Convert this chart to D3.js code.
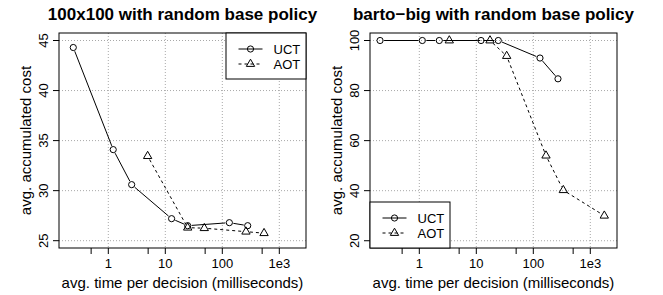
<!DOCTYPE html>
<html>
<head>
<meta charset="utf-8">
<script src="https://cdn.jsdelivr.net/npm/d3@7"></script>
<style>
  html, body { margin: 0; padding: 0; background: #fff; }
  svg { display: block; font-family: "Liberation Sans", Arial, Helvetica, sans-serif; }
</style>
</head>
<body>
<div id="chart"></div>
<script>
'use strict';

// canvas
const W = 663, H = 295;

// x axis (log) ticks, shared by both panels
const xTicks = [0.5, 1, 5, 10, 50, 100, 500, 1000];
const xLabelled = [1, 10, 100, 1000];
const xTickLabels = ['1', '10', '100', '1e3'];

// panel 1: 100x100
const titleA = '100x100 with random base policy';
const uctTimeA = [0.243, 1.22, 2.57, 12.9, 24.7, 133, 279];
const uctCostA = [44.3, 34.1, 30.6, 27.2, 26.5, 26.8, 26.5];
const aotTimeA = [4.9, 24.7, 48.3, 260, 540];
const aotCostA = [33.45, 26.3, 26.25, 25.9, 25.75];
const yTicksA = [25, 30, 35, 40, 45];

// panel 2: barto-big
const titleB = 'barto\u2212big with random base policy';
const uctTimeB = [0.205, 1.13, 2.24, 12.1, 24.3, 131, 271];
const uctCostB = [100, 100, 100, 100, 100, 93, 84.7];
const aotTimeB = [3.36, 17.4, 34.1, 167, 336, 1760];
const aotCostB = [100, 100, 93.8, 54, 40.2, 30];
const yTicksB = [20, 40, 60, 80, 100];

const seriesNames = ['UCT', 'AOT'];

const svg = d3.select('#chart').append('svg')
    .attr('width', W)
    .attr('height', H);

const triangle = d3.symbol().type(d3.symbolTriangle).size(30);

// draw a line with small gaps round each point (R type="b")
const gapLine = function(g, pts, dash) {
    const gap = 4;
    for (let i = 0; i < pts.length - 1; i++) {
        const [x1, y1] = pts[i], [x2, y2] = pts[i + 1];
        const len = Math.hypot(x2 - x1, y2 - y1);
        if (len <= 2 * gap) continue;
        const ux = (x2 - x1) / len, uy = (y2 - y1) / len;
        g.append('line')
            .attr('x1', x1 + ux * gap).attr('y1', y1 + uy * gap)
            .attr('x2', x2 - ux * gap).attr('y2', y2 - uy * gap)
            .attr('stroke', '#000')
            .attr('stroke-width', 1)
            .attr('stroke-dasharray', dash);
    }
}

const drawMarker = function(g, kind, x, y) {
    if (kind === 'circle') {
        g.append('circle')
            .attr('cx', x).attr('cy', y).attr('r', 3.1)
            .attr('fill', 'none').attr('stroke', '#000').attr('stroke-width', 1);
    } else {
        g.append('path')
            .attr('d', triangle())
            .attr('transform', `translate(${x},${y})`)
            .attr('fill', 'none').attr('stroke', '#000').attr('stroke-width', 1);
    }
}

const drawPanel = function(p) {
    const g = svg.append('g');
    const x = d3.scaleLog().domain([0.1365, 2940]).range([p.left, p.left + 247]);
    const y = d3.scaleLinear().domain(p.ydom).range([248, 33]);

    // title
    g.append('text')
        .attr('x', p.left + 123.5).attr('y', 20)
        .attr('text-anchor', 'middle')
        .attr('font-size', 17).attr('font-weight', 'bold')
        .text(p.title);

    // grid
    const grid = g.append('g')
        .attr('stroke', '#a8a8a8')
        .attr('stroke-dasharray', '1,2');
    xLabelled.forEach(v => grid.append('line')
        .attr('x1', x(v)).attr('x2', x(v)).attr('y1', 33).attr('y2', 248));
    p.yticks.forEach(v => grid.append('line')
        .attr('x1', p.left).attr('x2', p.left + 247).attr('y1', y(v)).attr('y2', y(v)));

    // x axis ticks
    const xa = g.append('g');
    xTicks.forEach(v => xa.append('line')
        .attr('x1', x(v)).attr('x2', x(v)).attr('y1', 248).attr('y2', 254)
        .attr('stroke', '#000'));
    xLabelled.forEach((v, i) => xa.append('text')
        .attr('x', x(v)).attr('y', 268)
        .attr('text-anchor', 'middle')
        .attr('font-size', 13)
        .text(xTickLabels[i]));

    // y axis ticks (labels rotated like R)
    const ya = g.append('g');
    p.yticks.forEach(v => {
        ya.append('line')
            .attr('x1', p.left - 6).attr('x2', p.left).attr('y1', y(v)).attr('y2', y(v))
            .attr('stroke', '#000');
        ya.append('text')
            .attr('transform', `translate(${p.left - 11},${y(v)}) rotate(-90)`)
            .attr('text-anchor', 'middle')
            .attr('font-size', 13)
            .text(v);
    });

    // axis titles
    g.append('text')
        .attr('x', p.left + 123.5).attr('y', 288)
        .attr('text-anchor', 'middle')
        .attr('font-size', 15)
        .text('avg. time per decision (milliseconds)');
    g.append('text')
        .attr('transform', `translate(${p.left - 28},140.5) rotate(-90)`)
        .attr('text-anchor', 'middle')
        .attr('font-size', 15)
        .text('avg. accumulated cost');

    // series
    const uct = p.uctT.map((t, i) => [x(t), y(p.uctC[i])]);
    const aot = p.aotT.map((t, i) => [x(t), y(p.aotC[i])]);
    gapLine(g, uct, null);
    gapLine(g, aot, '3,3');
    uct.forEach(d => drawMarker(g, 'circle', d[0], d[1]));
    aot.forEach(d => drawMarker(g, 'triangle', d[0], d[1]));

    // box
    g.append('rect')
        .attr('x', p.left).attr('y', 33).attr('width', 247).attr('height', 215)
        .attr('fill', 'none').attr('stroke', '#000');

    // legend
    const lg = g.append('g').attr('transform', `translate(${p.legX},${p.legY})`);
    lg.append('rect')
        .attr('width', 80).attr('height', 46)
        .attr('fill', '#fff').attr('stroke', '#000');
    seriesNames.forEach((name, i) => {
        const ly = 16 + i * 15;
        lg.append('line')
            .attr('x1', 12.5).attr('x2', 36.5).attr('y1', ly).attr('y2', ly)
            .attr('stroke', '#000')
            .attr('stroke-dasharray', i === 0 ? null : '3,3');
        drawMarker(lg, i === 0 ? 'circle' : 'triangle', 24.5, ly);
        lg.append('text')
            .attr('x', 47.5).attr('y', ly + 4.6)
            .attr('font-size', 13)
            .text(name);
    });
}

drawPanel({
    left: 59, title: titleA, ydom: [24.27, 45.75], yticks: yTicksA,
    uctT: uctTimeA, uctC: uctCostA, aotT: aotTimeA, aotC: aotCostA,
    legX: 226, legY: 33
});

drawPanel({
    left: 370, title: titleB, ydom: [17.1, 103], yticks: yTicksB,
    uctT: uctTimeB, uctC: uctCostB, aotT: aotTimeB, aotC: aotCostB,
    legX: 370, legY: 202
});
</script>
</body>
</html>
